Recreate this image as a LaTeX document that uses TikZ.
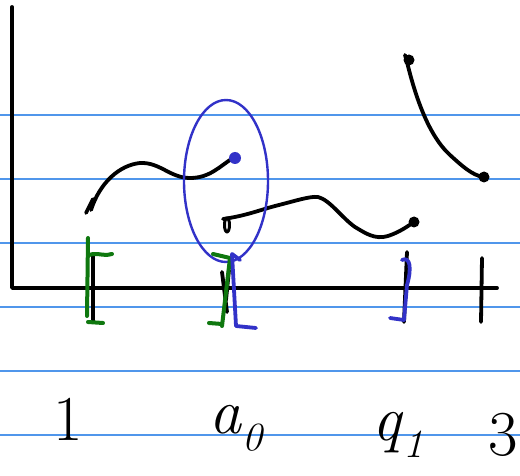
\documentclass[tikz,border=0pt]{standalone}
\usepackage{fontspec}
\definecolor{rulecol}{RGB}{80,150,235}
\definecolor{penblue}{RGB}{50,50,200}
\definecolor{pengreen}{RGB}{15,120,15}
\newcommand{\mysub}[1]{\raisebox{-0.28em}{\fontsize{40}{40}\selectfont #1}}
\begin{document}
\begin{tikzpicture}[x=1pt,y=-1pt,
  ink/.style={line width=3.8pt,line cap=round,line join=round},
  gink/.style={ink,pengreen,line width=4pt},
  bink/.style={ink,penblue},
  lbl/.style={font=\fontsize{64}{66}\selectfont,inner sep=0pt}]
\useasboundingbox (0,0) rectangle (520,476);
\fill[white] (0,0) rectangle (520,476);
\foreach \y in {115,179,243,307,371,435} \draw[rulecol,line width=1.1pt] (0,\y) -- (520,\y);
% axes
\draw[ink] (12,7) -- (12,288) -- (497,288);
% curve 1
\draw[ink] (91,210) .. controls (100,182) and (120,165) .. (140,163) .. controls (160,162) and (170,178) .. (190,178) .. controls (210,178) and (220,166) .. (233,158);
\draw[ink] (86,213) -- (93,199);
\fill[penblue] (235,158) circle (6);
% curve 2
\draw[ink] (223,219) .. controls (245,216) and (260,210) .. (275,206) .. controls (295,201) and (310,196) .. (318,197) .. controls (330,200) and (342,218) .. (355,227) .. controls (365,233) and (375,240) .. (388,236) .. controls (400,232) and (408,226) .. (414,222);
\draw[ink,line width=3pt] (227,225) ellipse (2.5 and 7);
\fill (414,222) circle (5.5);
% curve 3
\draw[ink] (405,55) -- (407,62) .. controls (415,95) and (428,135) .. (450,155) .. controls (462,166) and (472,175) .. (483,177);
\fill (409,60) circle (5.5);
\fill (484,177) circle (5.5);
% ellipse
\draw[penblue,line width=2.4pt] (226,181) ellipse (42 and 81);
% ticks
\draw[ink] (482,258) -- (481,322);
\draw[ink] (407,252) -- (404,322);
\draw[ink] (93,255) -- (93,322);
\draw[ink] (222,272) -- (227,312);
\draw[ink] (229,270) -- (226,300);
% green brackets
\draw[gink] (88,238) -- (87,316);
\draw[gink] (89,255) .. controls (98,252) and (105,257) .. (112,254);
\draw[gink] (88,322) -- (103,323);
\draw[gink] (213,254) -- (230,258) -- (222,326);
\draw[gink] (209,323) -- (222,324);
% blue brackets
\draw[bink] (232,254) -- (240,260);
\draw[bink] (232,254) -- (236,326) -- (256,328);
\draw[bink] (402,260) .. controls (410,256) and (412,268) .. (407,285) -- (404,320) -- (390,318);
% labels
\node[lbl,anchor=base] (l1) at (68,440) {1};
\node[lbl,anchor=base] (la0) at (236,433) {\itshape a\/\mysub{0}};
\node[lbl,anchor=base] (lq1) at (398,440) {\itshape q\/\mysub{1}};
\node[lbl,anchor=base] (l3) at (503,455) {3};
\end{tikzpicture}
\end{document}
